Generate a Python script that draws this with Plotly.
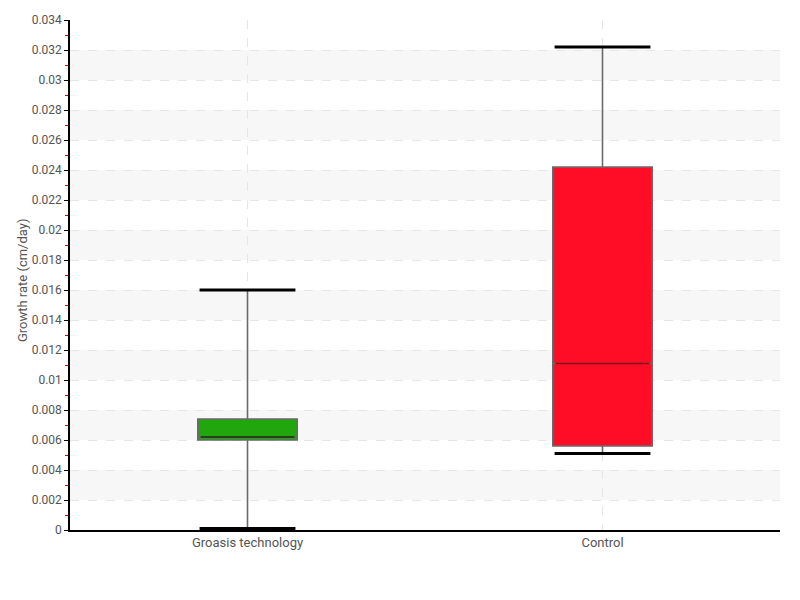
import plotly.graph_objects as go

categories = ["Groasis technology", "Control"]
q1 = [0.0060, 0.0056]
median = [0.0062, 0.0111]
q3 = [0.0074, 0.0242]
lower_whisker = [0.0001, 0.0051]
upper_whisker = [0.0160, 0.0322]
fill_colors = ["#21a60e", "#ff0d26"]
median_colors = ["#12300c", "#a1000f"]
tick_vals = [i * 0.002 for i in range(18)]
tick_text = ["0", "0.002", "0.004", "0.006", "0.008", "0.01", "0.012", "0.014", "0.016",
             "0.018", "0.02", "0.022", "0.024", "0.026", "0.028", "0.03", "0.032", "0.034"]

FONT = "Liberation Sans Narrow, Roboto, sans-serif"
xs = list(range(len(categories)))
BW = 0.28
CAP = 0.135

fig = go.Figure()

# boxes with gray whiskers
for i, x in enumerate(xs):
    fig.add_trace(go.Box(x=[x], q1=[q1[i]], median=[median[i]], q3=[q3[i]],
                         lowerfence=[lower_whisker[i]], upperfence=[upper_whisker[i]], width=BW,
                         fillcolor=fill_colors[i], line=dict(color="#6a6a6a", width=1.6),
                         whiskerwidth=0, showlegend=False, name=categories[i]))

# medians and caps
for i, x in enumerate(xs):
    fig.add_trace(go.Scatter(x=[x - BW / 2 + 0.008, x + BW / 2 - 0.008], y=[median[i], median[i]], mode="lines",
                             line=dict(color=median_colors[i], width=1.5), showlegend=False, hoverinfo="skip"))
    for yv in (lower_whisker[i], upper_whisker[i]):
        fig.add_trace(go.Scatter(x=[x - CAP, x + CAP], y=[yv, yv], mode="lines",
                                 line=dict(color="#000000", width=3), showlegend=False, hoverinfo="skip"))

shapes = []
for k in range(9):
    y0 = 0.002 + 0.004 * k
    y1 = y0 + 0.002
    if y1 > 0.034:
        break
    shapes.append(dict(type="rect", xref="paper", yref="y", x0=0, x1=1, y0=y0, y1=y1,
                       fillcolor="#f7f7f7", line=dict(width=0), layer="below"))

fig.update_layout(
    width=800, height=600,
    margin=dict(l=62, r=28, t=12, b=78),
    plot_bgcolor="white", paper_bgcolor="white",
    font=dict(family=FONT, size=13, color="#555555"),
    shapes=shapes,
    annotations=[dict(text="Growth rate (cm/day)", xref="paper", yref="paper", x=-0.0676, y=0.49,
                      xanchor="center", yanchor="middle", textangle=-90, showarrow=False,
                      font=dict(size=13, color="#555555"))],
    xaxis=dict(range=[-0.5, 1.5], tickvals=xs, ticktext=categories, showline=True,
               linecolor="#000000", linewidth=1.5, showgrid=True, gridcolor="#e6e6e6",
               griddash="dash", zeroline=False, ticks="", automargin=False,
               tickfont=dict(size=13, color="#555555")),
    yaxis=dict(range=[0, 0.034], tickvals=tick_vals, ticktext=tick_text, showline=True,
               linecolor="#000000", linewidth=1.5, showgrid=True, gridcolor="#e6e6e6",
               griddash="dash", zeroline=False, ticks="outside", ticklen=4, tickcolor="#000000",
               automargin=False,
               minor=dict(dtick=0.001, tick0=0, ticks="outside", ticklen=3, tickcolor="#dd0000", showgrid=False),
               tickfont=dict(size=12, color="#555555")),
)

fig.write_html("out.html")
